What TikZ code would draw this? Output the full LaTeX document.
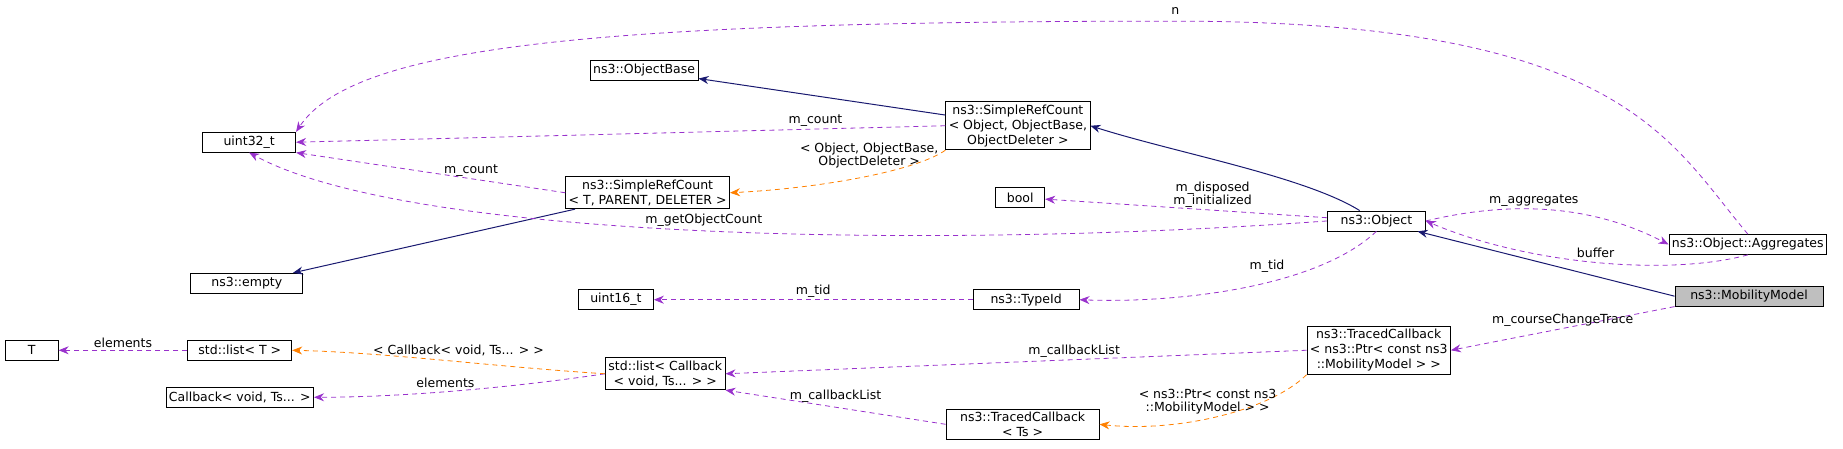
\documentclass[tikz,border=0pt]{standalone}
\usepackage{fontspec}
\setmainfont{DejaVu Sans}
\usetikzlibrary{arrows.meta}
\begin{document}
\begin{tikzpicture}[x=1.175pt,y=-1.175pt,
  box/.style={draw=black,fill=white,inner sep=3pt,minimum height=20pt,font=\fontsize{12.5}{15}\selectfont,align=center,line width=0.8pt},
  inh/.style={draw={rgb,255:red,25;green,25;blue,112},line width=1pt,-{Stealth[length=10pt,width=8pt]}},
  use/.style={draw={rgb,255:red,153;green,50;blue,204},dashed,dash pattern=on 5pt off 4pt,line width=0.8pt,-{Stealth[length=10pt,width=8pt]}},
  tpl/.style={draw=orange,dashed,dash pattern=on 5pt off 4pt,line width=0.8pt,-{Stealth[length=10pt,width=8pt]}},
  lab/.style={font=\fontsize{12.5}{13}\selectfont,align=center,inner sep=2pt}]
\useasboundingbox (0,0) rectangle (1568,382);
\node[box,minimum width=53pt] (T) at (27,298) {T};
\node[box,minimum width=104pt] (lt) at (204,298) {std::list< T >};
\node[box] (cb) at (204,338) {Callback< void, Ts... >};
\node[box,minimum width=93pt] (u32) at (212,121) {uint32\_t};
\node[box,minimum width=112pt] (empty) at (210,241) {ns3::empty};
\node[box] (ob) at (548,60) {ns3::ObjectBase};
\node[box] (srct) at (551,164) {ns3::SimpleRefCount\\< T, PARENT, DELETER >};
\node[box,minimum width=75pt] (u16) at (524,255) {uint16\_t};
\node[box,minimum width=49pt] (bool) at (868,168) {bool};
\node[box] (srco) at (866,107) {ns3::SimpleRefCount\\< Object, ObjectBase,\\ObjectDeleter >};
\node[box,minimum width=98pt] (obj) at (1171,188) {ns3::Object};
\node[box,minimum width=106pt] (tid) at (873,255) {ns3::TypeId};
\node[box] (lcb) at (566,318) {std::list< Callback\\< void, Ts... > >};
\node[box,minimum width=153pt] (tcts) at (870,361) {ns3::TracedCallback\\< Ts >};
\node[box] (tcp) at (1173,298) {ns3::TracedCallback\\< ns3::Ptr< const ns3\\::MobilityModel > >};
\node[box] (agg) at (1487,208) {ns3::Object::Aggregates};
\node[box,fill={rgb,255:red,191;green,191;blue,191},minimum width=148pt] (mm) at (1488,252) {ns3::MobilityModel};

\draw[inh] (srco) -- (ob);
\draw[inh] (obj) .. controls (1110,150) and (1000,130) .. (srco.east);
\draw[inh] (srct) -- (empty);
\draw[inh] (mm.west) -- (obj);

\draw[use] (agg.north) .. controls (1420,120) and (1380,18) .. (1000,18) .. controls (500,18) and (300,40) .. (u32.north east);
\node[lab] at (1000,9) {n};
\draw[use] (srco.west) -- node[lab,above,pos=0.2]{m\_count} (u32.east);
\draw[use] (srct.west) -- node[lab,above,pos=0.35]{m\_count} (u32.south east);
\draw[use] (obj.west) .. controls (800,212) and (350,205) .. node[lab,above,pos=0.5,yshift=2pt]{m\_getObjectCount} (u32.south);
\draw[use] (obj) -- node[lab,above,pos=0.42,xshift=4pt]{m\_disposed\\m\_initialized} (bool);
\draw[use] (obj.east) .. controls (1280,172) and (1350,172) .. node[lab,above,pos=0.45]{m\_aggregates} (agg.west);
\draw[use] (agg.south) .. controls (1420,235) and (1300,225) .. node[lab,above,pos=0.5,yshift=2pt]{buffer} (obj.east);
\draw[use] (obj.south) .. controls (1120,245) and (1000,258) .. node[lab,above,pos=0.35,xshift=-22pt,yshift=2pt]{m\_tid} (tid.east);
\draw[use] (tid) -- node[lab,above]{m\_tid} (u16);
\draw[use] (mm.south west) -- node[lab,above]{m\_courseChangeTrace} (tcp.east);
\draw[use] (tcp.west) -- node[lab,above,pos=0.4]{m\_callbackList} (lcb.east);
\draw[use] (tcts.west) -- node[lab,above,yshift=2pt]{m\_callbackList} (lcb.south east);
\draw[use] (lt) -- node[lab,above]{elements} (T);
\draw[use] (lcb.west) .. controls (420,332) and (330,338) .. node[lab,above,yshift=2pt]{elements} (cb);

\draw[tpl] (srco.south west) .. controls (780,145) and (700,160) .. node[lab,above,pos=0.35,xshift=-25pt]{< Object, ObjectBase,\\ObjectDeleter >} (srct.east);
\draw[tpl] (lcb.west) .. controls (420,312) and (330,300) .. node[lab,above,pos=0.45,yshift=3pt]{< Callback< void, Ts... > >} (lt.east);
\draw[tpl] (tcp.south west) .. controls (1080,350) and (1000,368) .. node[lab,above,pos=0.5,xshift=-10pt]{< ns3::Ptr< const ns3\\::MobilityModel > >} (tcts.east);
\end{tikzpicture}
\end{document}
